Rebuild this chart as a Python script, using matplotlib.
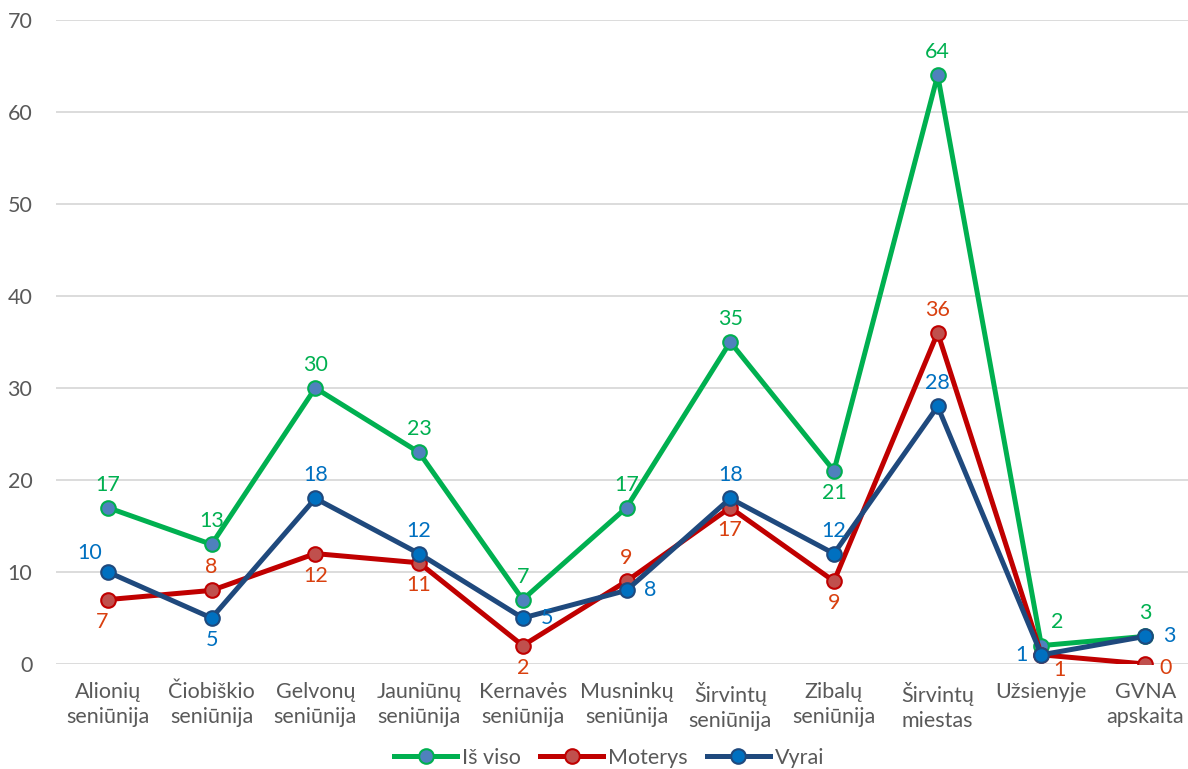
import matplotlib
matplotlib.use('Agg')
import matplotlib.pyplot as plt

plt.rcParams['font.family'] = ['Lato', 'DejaVu Sans']

categories = ['Alionių\nseniūnija', 'Čiobiškio\nseniūnija', 'Gelvonų\nseniūnija',
              'Jauniūnų\nseniūnija', 'Kernavės\nseniūnija', 'Musninkų\nseniūnija',
              'Širvintų\nseniūnija', 'Zibalų\nseniūnija', 'Širvintų\nmiestas',
              'Užsienyje', 'GVNA\napskaita']
is_viso = [17, 13, 30, 23, 7, 17, 35, 21, 64, 2, 3]
moterys = [7, 8, 12, 11, 2, 9, 17, 9, 36, 1, 0]
vyrai = [10, 5, 18, 12, 5, 8, 18, 12, 28, 1, 3]

# where each data label sits relative to its point
pos_viso = ['a', 'a', 'a', 'a', 'a', 'a', 'a', 'b', 'a', 'ar', 'a']
pos_mot = ['bl', 'a', 'b', 'b', 'b', 'a', 'b', 'b', 'a', 'br', 'r0']
pos_vyr = ['al', 'b', 'a', 'a', 'r', 'r', 'a', 'a', 'a', 'l', 'r']

# offsets in pixels
offsets = {'a': (0, 23), 'b': (0, -22), 'r': (24, 0), 'l': (-20, 0),
           'ar': (16, 24), 'br': (18, -15), 'al': (-18, 19), 'bl': (-6, -22),
           'r0': (20, -4)}

fig = plt.figure(figsize=(11.88, 7.69), dpi=100)
ax = fig.add_axes([56 / 1188, 105 / 769, 1141 / 1188, 644 / 769])

x = list(range(len(categories)))
series = [
    (is_viso, 'Iš viso', '#00B050', '#4F81BD', pos_viso),
    (moterys, 'Moterys', '#C00000', '#C0504D', pos_mot),
    (vyrai, 'Vyrai', '#1F497D', '#0070C0', pos_vyr),
]
label_colors = {'Iš viso': '#00B050', 'Moterys': '#D9400F', 'Vyrai': '#0070C0'}

for vals, name, lc, fc, pos in series:
    ax.plot(x, vals, color=lc, lw=3.6, marker='o', ms=10.5,
            markerfacecolor=fc, markeredgecolor=lc, markeredgewidth=1.5,
            label=name, solid_joinstyle='round', zorder=3)
    for xi, v, p in zip(x, vals, pos):
        dx, dy = offsets[p]
        ax.annotate(str(v), (xi, v), xytext=(dx, dy), textcoords='offset pixels',
                    ha='center', va='center', fontsize=15.5,
                    color=label_colors[name], zorder=5)

ax.set_xlim(-0.5, len(categories) - 0.5)
ax.set_ylim(0, 70)
ax.set_yticks(range(0, 71, 10))
ax.set_xticks(x)
ax.set_xticklabels(categories, fontsize=15.5, color='#595959', linespacing=1.32)
ax.tick_params(axis='y', labelsize=15.5, labelcolor='#595959', length=0, pad=17)
ax.tick_params(axis='x', length=0, pad=13)
ax.grid(axis='y', color='#D9D9D9', lw=1.3)
ax.set_axisbelow(True)
for s in ax.spines.values():
    s.set_visible(False)

leg = ax.legend(loc='center', bbox_to_anchor=(0.485, -0.146), ncol=3,
                frameon=False, fontsize=15.5, handlelength=2.9, columnspacing=0.9,
                handletextpad=0.25, borderaxespad=0)
for t in leg.get_texts():
    t.set_color('#595959')

fig.savefig('out.png', dpi=100)
